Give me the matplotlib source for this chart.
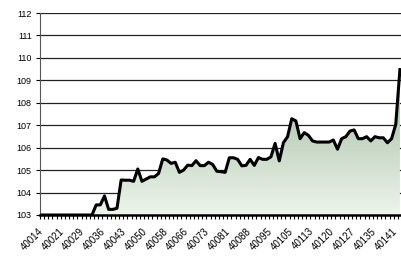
import matplotlib.pyplot as plt
import matplotlib.transforms as mtransforms
import numpy as np
from matplotlib.colors import LinearSegmentedColormap

# x categories: 87 trading days, every 5th one is labelled
tick_labels = ["40014", "40021", "40029", "40036", "40043", "40050", "40058",
               "40066", "40073", "40081", "40088", "40095", "40105", "40113",
               "40120", "40127", "40135", "40141"]

values = [103.0] * 13 + [
    103.45, 103.45, 103.85, 103.25, 103.25, 103.3, 104.56, 104.55, 104.55,
    104.5, 105.05, 104.5, 104.6, 104.7, 104.7, 104.85, 105.5, 105.45, 105.3,
    105.35, 104.9, 105.0, 105.22, 105.2, 105.42, 105.2, 105.2, 105.35, 105.25,
    104.95, 104.93, 104.9, 105.55, 105.55,
    105.48, 105.19, 105.21, 105.48, 105.21, 105.56, 105.48, 105.48, 105.59,
    106.19, 105.41, 106.22, 106.49, 107.29, 107.19, 106.4, 106.67, 106.55,
    106.3, 106.25, 106.25, 106.25, 106.25, 106.34, 105.93, 106.4, 106.49,
    106.74, 106.79, 106.4, 106.4, 106.49, 106.3, 106.49, 106.44, 106.44,
    106.22, 106.4, 107.04, 109.48]

ymin, ymax = 103, 112
x = np.arange(len(values))

plt.rcParams['font.family'] = ['Liberation Sans', 'DejaVu Sans']

fig = plt.figure(figsize=(4.02, 2.56), dpi=100)
ax = fig.add_axes([40 / 402, 41 / 256, 362 / 402, 202 / 256])
ax.set_xlim(-0.5, len(values) - 0.5)
ax.set_ylim(ymin, ymax)

# gradient fill under the line
cmap = LinearSegmentedColormap.from_list("g", ["#eef5ec", "#9db89d"])
top = max(values)
grad = np.linspace(0, 1, 256).reshape(-1, 1)
img = ax.imshow(grad, cmap=cmap, origin="lower", aspect="auto",
                extent=[-0.5, len(values) - 0.5, ymin, top], zorder=1)
poly = ax.fill_between(x, ymin, values, color="none", lw=0)
clip = poly.get_paths()[0]
img.set_clip_path(clip, transform=ax.transData)

ax.plot(x, values, color="black", lw=2.2, zorder=3, solid_joinstyle="round")

ax.set_yticks(range(ymin, ymax + 1))
ax.grid(axis="y", color="#222222", lw=0.9, zorder=0)
ax.set_axisbelow(True)

ax.set_xticks(range(0, len(values), 5))
ax.set_xticklabels(tick_labels, rotation=45, ha="right", rotation_mode="anchor")
ax.set_xticks(np.arange(-0.5, len(values), 1), minor=True)
ax.tick_params(axis="x", which="major", length=0, pad=8, labelsize=7)
ax.tick_params(axis="x", which="minor", length=3, width=0.8, direction="out")
ax.tick_params(axis="y", length=3, width=0.8, pad=3, labelsize=6.5)

shift = mtransforms.ScaledTranslation(-4 / 100, 0, fig.dpi_scale_trans)
for lab in ax.get_xticklabels():
    lab.set_transform(lab.get_transform() + shift)

for s in ["top", "right"]:
    ax.spines[s].set_visible(False)
ax.spines["left"].set_color("#555555")
ax.spines["bottom"].set_linewidth(1.8)
ax.spines["bottom"].set_zorder(4)

fig.savefig("out.png", dpi=100)
